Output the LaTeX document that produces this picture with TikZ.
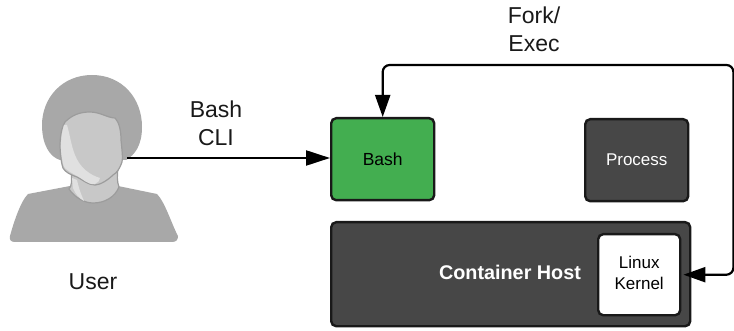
\documentclass[tikz,border=0pt]{standalone}
\usepackage{fontspec}
\setmainfont{Liberation Sans}
\usetikzlibrary{arrows.meta}
\definecolor{darkbox}{HTML}{474747}
\definecolor{greenbox}{HTML}{43AE50}
\definecolor{hair}{HTML}{A8A8A8}
\definecolor{skin}{HTML}{C8C8C8}
\definecolor{shine}{HTML}{E0E0E0}
\definecolor{edge}{HTML}{9C9C9C}
\tikzset{
  box/.style={draw=black!90,line width=2.4pt,rounded corners=5pt,anchor=north west,inner sep=0pt,align=center},
  lbl/.style={font=\fontsize{23}{28}\selectfont,align=center,text=black!90,inner sep=0pt},
  conn/.style={draw=black,line width=2.2pt,rounded corners=7pt},
  tip/.style={{Triangle[length=22pt,width=15pt]}-{Triangle[length=22pt,width=15pt]}},
  tipone/.style={-{Triangle[length=24pt,width=15pt]}},
}
\begin{document}
\begin{tikzpicture}[x=1pt,y=-1pt]
\useasboundingbox (0,0) rectangle (734,331);
% person
\fill[hair] (10,236) .. controls (13,225) and (20,202) .. (28,194) -- (70,186) -- (118,186) -- (157,194) .. controls (165,202) and (172,225) .. (178,236) .. controls (178,240) and (176,242) .. (172,242) -- (15,242) .. controls (11,242) and (9,240) .. (10,236) -- cycle;
\filldraw[fill=skin,draw=edge,line width=1.2pt] (71,170) .. controls (72,180) and (72,186) .. (69,189) .. controls (75,198) and (85,203) .. (93,203) .. controls (105,203) and (115,197) .. (119,187) .. controls (117,182) and (117,175) .. (118,168) -- cycle;
\fill[shine] (73,188) .. controls (75,194) and (80,199) .. (84,201) .. controls (80,192) and (78,185) .. (77,180) -- (72,178) -- cycle;
\fill[hair] (92,75) .. controls (122,75) and (142,98) .. (142,127) .. controls (142,145) and (135,155) .. (126,160) -- (60,160) .. controls (50,157) and (42,145) .. (42,125) .. controls (42,98) and (62,75) .. (92,75) -- cycle;
\filldraw[fill=skin,draw=edge,line width=1.2pt] (90,112) .. controls (100,112) and (108,118) .. (115,118) .. controls (119,122) and (121,130) .. (121,140) .. controls (122,150) and (123,158) .. (122,162) .. controls (120,168) and (117,173) .. (113,175) .. controls (108,180) and (100,185) .. (95,185) .. controls (88,185) and (83,180) .. (77,177) .. controls (71,175) and (65,172) .. (63,168) .. controls (62,165) and (61,160) .. (61,158) .. controls (59,145) and (60,130) .. (65,122) .. controls (72,115) and (80,112) .. (90,112) -- cycle;
\fill[shine] (64,125) .. controls (61,135) and (60,148) .. (62,158) .. controls (63,165) and (64,168) .. (66,169) .. controls (72,174) and (78,176) .. (82,179) .. controls (87,183) and (92,185) .. (95,184) .. controls (98,183) and (100,180) .. (100,178) .. controls (90,175) and (80,168) .. (75,155) .. controls (71,145) and (70,135) .. (67,125) -- cycle;
\coordinate (user) at (127,158);
\node[lbl] (userlbl) at (93,282) {User};
% boxes
\node[box,fill=greenbox,minimum width=103pt,minimum height=82pt] (bash) at (330,117) {\fontsize{17.5}{21}\selectfont Bash};
\node[box,fill=darkbox,text=white,minimum width=103pt,minimum height=82pt] (proc) at (584,118) {\fontsize{17}{21}\selectfont Process};
\node[box,fill=darkbox,minimum width=359pt,minimum height=104pt] (host) at (330,221) {};
\node[font=\bfseries\fontsize{19.8}{24}\selectfont,text=white,inner sep=0pt] (hostlbl) at (510,272) {Container Host};
\node[box,fill=white,minimum width=82pt,minimum height=81pt,font=\fontsize{17}{21}\selectfont] (kernel) at (597,233) {\raisebox{3pt}{\begin{tabular}{@{}c@{}}Linux\\Kernel\end{tabular}}};
% labels
\node[lbl] (cli) at (216,123) {Bash\\CLI};
\node[lbl] (fork) at (534,29) {Fork/\\Exec};
% connectors
\path[conn,tipone] (user) -- (bash.west |- user);
\path[conn,tip,shorten <=-8pt] (host.east |- kernel.east) -- ++(42,0) |- (bash.north |- 0,65) -- (bash.north);
\end{tikzpicture}
\end{document}
